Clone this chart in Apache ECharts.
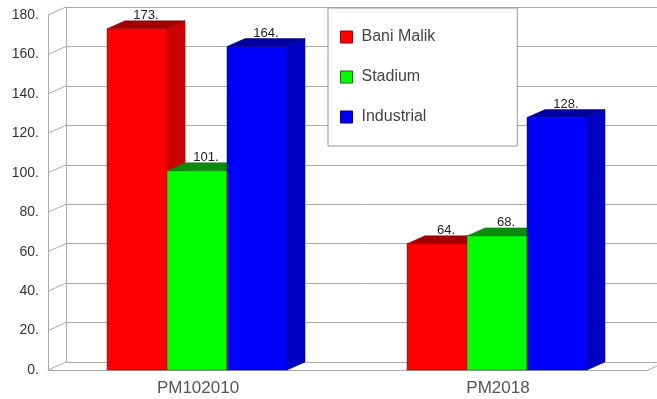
<!DOCTYPE html>
<html>
<head>
<meta charset="utf-8">
<script src="https://cdn.jsdelivr.net/npm/echarts@6/dist/echarts.min.js"></script>
<style>html,body{margin:0;padding:0;background:#fff;}#c{width:657px;height:399px;}</style>
</head>
<body>
<div id="c"></div>
<script>
var categories = ['PM102010', 'PM2018'];
var seriesNames = ['Bani Malik', 'Stadium', 'Industrial'];
var baniMalik = [173, 64];
var stadium = [101, 68];
var industrial = [164, 128];
var yTicks = [0, 20, 40, 60, 80, 100, 120, 140, 160, 180];

var seriesValues = [baniMalik, stadium, industrial];
var faceColors = [
  {front: '#ff0000', top: '#a40000', side: '#cc0000', edge: '#900000'},
  {front: '#00ff00', top: '#0c8c0c', side: '#00b800', edge: '#007000'},
  {front: '#0000ff', top: '#0000a0', side: '#0000c4', edge: '#000080'}
];
var DX = 18, DY = -8;

var chart = echarts.init(document.getElementById('c'));

function barRender(si) {
  return function (params, api) {
    var ci = api.value(0), v = api.value(1);
    var base = api.coord([ci, 0]);
    var top = api.coord([ci, v]);
    var band = api.size([1, 0])[0];
    var bw = band * 0.2;
    var left = base[0] - 1.5 * bw - 1 + si * bw;
    var right = left + bw;
    var yb = base[1], yt = top[1];
    var c = faceColors[si];
    return {
      type: 'group',
      children: [
        {type: 'polygon', shape: {points: [[right, yt], [right + DX, yt + DY], [right + DX, yb + DY], [right, yb]]},
          style: {fill: c.side, stroke: c.edge, lineWidth: 0.5}},
        {type: 'polygon', shape: {points: [[left, yt], [left + DX, yt + DY], [right + DX, yt + DY], [right, yt]]},
          style: {fill: c.top, stroke: c.edge, lineWidth: 0.5}},
        {type: 'rect', shape: {x: left, y: yt, width: bw, height: yb - yt},
          style: {fill: c.front, stroke: c.edge, lineWidth: 0.5}},
        {type: 'text', x: (left + right) / 2 + DX / 2, y: yt + DY + 1,
          style: {text: v + '.', fill: '#222', font: '13px "Liberation Sans", Arial, sans-serif', align: 'center', verticalAlign: 'bottom'}}
      ]
    };
  };
}

var series = [];
seriesNames.forEach(function (name, si) {
  series.push({
    name: name,
    type: 'custom',
    xAxisIndex: 0, yAxisIndex: 0,
    itemStyle: {color: faceColors[si].front},
    renderItem: barRender(si),
    data: seriesValues[si].map(function (v, i) { return [i, v]; }),
    z: 5
  });
});

// side wall diagonals and floor right edge
series.push({
  type: 'custom',
  xAxisIndex: 0, yAxisIndex: 0,
  silent: true,
  renderItem: function (params, api) {
    var v = api.value(1);
    var p = api.coord([0, v]);
    var x0 = params.coordSys.x;
    var children = [{type: 'line', shape: {x1: x0, y1: p[1], x2: x0 + DX, y2: p[1] + DY},
      style: {stroke: '#aaaaaa', lineWidth: 1}}];
    if (v === 0) {
      var x1 = params.coordSys.x + params.coordSys.width;
      children.push({type: 'line', shape: {x1: x1, y1: p[1], x2: x1 + DX, y2: p[1] + DY},
        style: {stroke: '#aaaaaa', lineWidth: 1}});
    }
    return {type: 'group', children: children};
  },
  data: yTicks.map(function (t) { return [0, t]; }),
  z: 1
});

chart.setOption({
  animation: false,
  backgroundColor: '#ffffff',
  grid: [
    {left: 48, width: 600, top: 15, height: 355},
    {left: 66, width: 600, top: 7, height: 355}
  ],
  xAxis: [
    {type: 'category', gridIndex: 0, data: categories,
      axisLine: {show: true, lineStyle: {color: '#aaaaaa'}}, axisTick: {show: false},
      axisLabel: {fontSize: 17, color: '#555', margin: 10, fontFamily: '"Liberation Sans", Arial, sans-serif'},
      splitLine: {show: false}},
    {type: 'category', gridIndex: 1, data: categories,
      axisLine: {show: false}, axisTick: {show: false}, axisLabel: {show: false}, splitLine: {show: false}}
  ],
  yAxis: [
    {type: 'value', gridIndex: 0, min: 0, max: 180, interval: 20,
      axisLine: {show: true, lineStyle: {color: '#aaaaaa'}}, axisTick: {show: false},
      axisLabel: {fontSize: 14, color: '#333', margin: 9, fontFamily: '"Liberation Sans", Arial, sans-serif',
        formatter: function (v) { return v + '.'; }},
      splitLine: {show: false}},
    {type: 'value', gridIndex: 1, min: 0, max: 180, interval: 20,
      axisLine: {show: true, lineStyle: {color: '#aaaaaa'}}, axisTick: {show: false}, axisLabel: {show: false},
      splitLine: {show: true, lineStyle: {color: '#aaaaaa', width: 1}}}
  ],
  legend: {
    orient: 'vertical',
    left: 328, top: 8,
    padding: [21, 82, 21, 12],
    itemGap: 24,
    itemWidth: 12, itemHeight: 12,
    backgroundColor: '#ffffff',
    borderColor: '#999999', borderWidth: 1,
    textStyle: {fontSize: 16, color: '#444', fontFamily: '"Liberation Sans", Arial, sans-serif', padding: [0, 0, 0, 4]},
    data: seriesNames.map(function (n, i) {
      return {name: n, icon: 'rect', itemStyle: {color: faceColors[i].front, borderColor: faceColors[i].edge, borderWidth: 1}};
    }),
    z: 10
  },
  series: series
});
</script>
</body>
</html>
